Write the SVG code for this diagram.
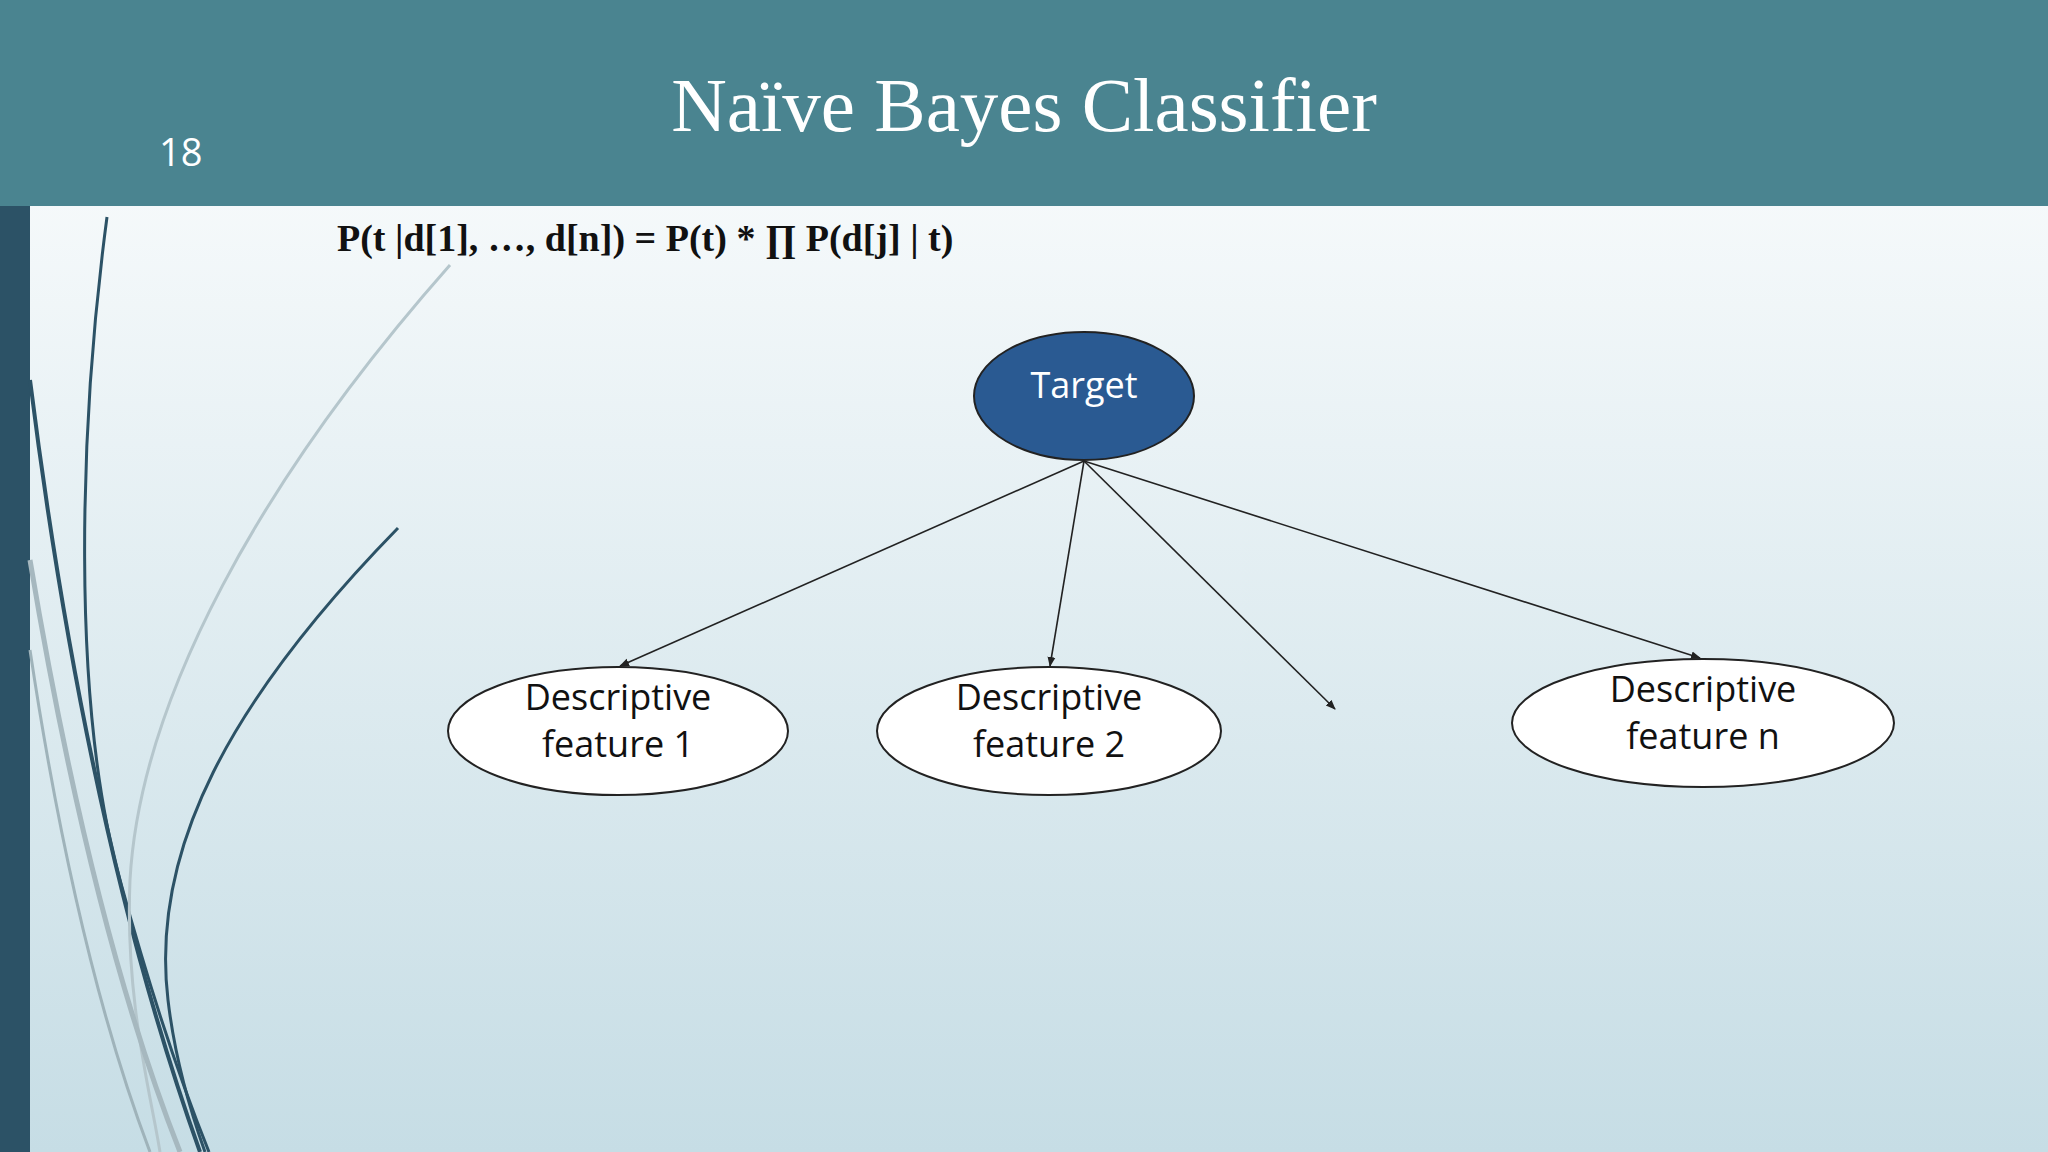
<svg xmlns="http://www.w3.org/2000/svg" width="2048" height="1152" viewBox="0 0 2048 1152">
<defs>
<linearGradient id="bg" x1="0" y1="0" x2="0" y2="1"><stop offset="0" stop-color="#ffffff"/><stop offset="1" stop-color="#c6dde5"/></linearGradient>
<marker id="ah" markerWidth="10" markerHeight="10" refX="9" refY="5" orient="auto" markerUnits="userSpaceOnUse"><path d="M0,1 L10,5 L0,9 Z" fill="#222"/></marker>
<style>
.node{fill:#fff;stroke:#222;stroke-width:2}
.lbl{font-family:"Open Sans","Noto Sans",sans-serif;font-size:36px;fill:#111;text-anchor:middle}
.edge{stroke:#222;stroke-width:1.6;fill:none;marker-end:url(#ah)}
</style>
</defs>
<rect width="2048" height="1152" fill="url(#bg)"/>
<rect width="2048" height="206" fill="#4a8490"/>
<rect x="0" y="206" width="30" height="946" fill="#2c5266"/>
<g fill="none">
<path d="M107,217 C80,420 70,700 120,880 C150,990 180,1080 209,1152" stroke="#2c5266" stroke-width="3"/>
<path d="M30,380 C60,620 110,900 200,1152" stroke="#2c5266" stroke-width="4"/>
<path d="M398,528 C230,700 150,850 168,1000 C175,1060 190,1110 205,1152" stroke="#2c5266" stroke-width="3"/>
<path d="M450,265 C260,480 140,700 130,880 C125,1000 150,1090 160,1152" stroke="#b5c6cc" stroke-width="3"/>
<path d="M30,560 C70,800 120,1000 180,1152" stroke="#a6b8bf" stroke-width="5"/>
<path d="M30,650 C60,850 100,1020 150,1152" stroke="#9fb3ba" stroke-width="3"/>
</g>
<text x="1024" y="131" font-family="Liberation Serif,serif" font-size="77" fill="#fff" text-anchor="middle">Naïve Bayes Classifier</text>
<text x="159" y="166" font-family="Open Sans,sans-serif" font-size="38" fill="#fff">18</text>
<text x="337" y="251" font-family="Liberation Serif,serif" font-size="38" font-weight="bold" fill="#111">P(t |d[1], …, d[n]) = P(t) * ∏ P(d[j] | t)</text>
<g id="connectors">
<line class="edge" x1="1084" y1="461" x2="620" y2="666"/>
<line class="edge" x1="1084" y1="461" x2="1050" y2="666"/>
<line class="edge" x1="1084" y1="461" x2="1335" y2="709"/>
<line class="edge" x1="1084" y1="461" x2="1700" y2="658"/>
</g>
<g id="target"><ellipse cx="1084" cy="396" rx="110" ry="64" fill="#2a5a92" stroke="#222" stroke-width="2"/><text class="lbl" x="1084" y="398" style="fill:#fff">Target</text></g>
<g id="f1"><ellipse class="node" cx="618" cy="731" rx="170" ry="64"/><text class="lbl" x="618" y="710">Descriptive</text><text class="lbl" x="618" y="757">feature 1</text></g>
<g id="f2"><ellipse class="node" cx="1049" cy="731" rx="172" ry="64"/><text class="lbl" x="1049" y="710">Descriptive</text><text class="lbl" x="1049" y="757">feature 2</text></g>
<g id="fn"><ellipse class="node" cx="1703" cy="723" rx="191" ry="64"/><text class="lbl" x="1703" y="702">Descriptive</text><text class="lbl" x="1703" y="749">feature n</text></g>
</svg>
